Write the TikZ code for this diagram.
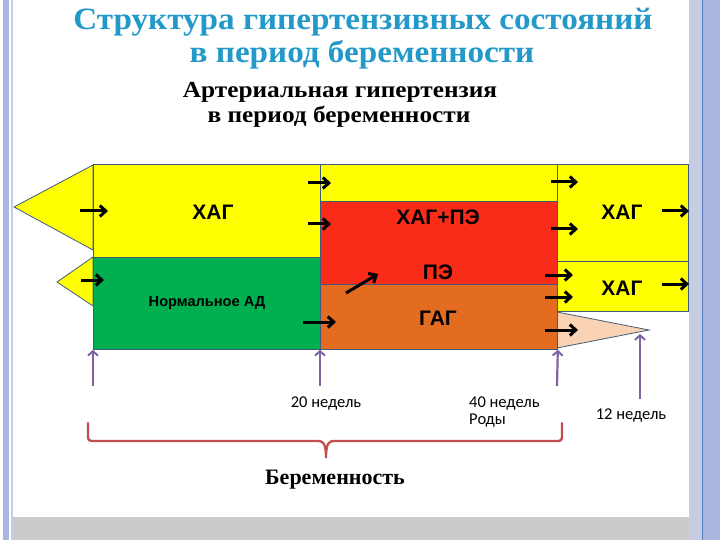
\documentclass[tikz,border=0pt]{standalone}
\usepackage{fontspec}
\setmainfont{Liberation Serif}
\newfontfamily\arialf{Liberation Sans}
\newfontfamily\calib{Carlito}
\usetikzlibrary{arrows.meta}
\definecolor{cyel}{HTML}{FFFF00}
\definecolor{cgreen}{HTML}{00B050}
\definecolor{cred}{HTML}{F82C18}
\definecolor{corange}{HTML}{E46C20}
\definecolor{cpeach}{HTML}{FAD3B4}
\definecolor{cedge}{HTML}{3F5A7A}
\definecolor{cpurple}{HTML}{8064A2}
\definecolor{cbrace}{HTML}{C0504D}
\definecolor{ctitle}{HTML}{2399C9}
\definecolor{cbar}{HTML}{AAB6E0}
\definecolor{cbarl}{HTML}{C6CCE2}
\definecolor{cbarline}{HTML}{5A7AC2}
\definecolor{cgray}{HTML}{CBCBCB}
\tikzset{
  box/.style={draw=cedge, line width=0.8pt, inner sep=0pt, anchor=north west},
  tri/.style={draw=cedge, line width=0.8pt},
  blk/.style={black, line width=3pt, -{Straight Barb[length=6pt,width=11pt,line width=3pt]}},
  pur/.style={cpurple, line width=2.2pt, -{Straight Barb[length=4.5pt,width=10pt,line width=2pt]}},
  lbl/.style={font=\arialf\bfseries\fontsize{21}{23}\selectfont, inner sep=0pt},
  wk/.style={font=\calib\fontsize{16.5}{19}\selectfont, inner sep=0pt},
}
\begin{document}
\begin{tikzpicture}[x=1pt,y=-1pt]
\useasboundingbox (0,0) rectangle (720,540);
% frame
\fill[white] (0,0) rectangle (720,540);
\fill[cgray] (12,517) rectangle (690,540);
\fill[cbar] (3,0) rectangle (9,540);
\fill[cbarl] (11,0) rectangle (13,540);
\fill[cbarl] (689,0) rectangle (702,540);
\fill[cbar] (702,0) rectangle (720,540);
\draw[cbarline, line width=1pt] (702.5,0) -- (702.5,540);
% titles
\node[font=\bfseries\fontsize{31}{33}\selectfont, text=ctitle, inner sep=0pt, xscale=1.07] (t1) at (363,22) {Структура гипертензивных состояний};
\node[font=\bfseries\fontsize{31}{33}\selectfont, text=ctitle, inner sep=0pt, xscale=1.07] (t2) at (362,55) {в период беременности};
\node[font=\bfseries\fontsize{23}{25}\selectfont, inner sep=0pt, xscale=1.1] (s1) at (340,92) {Артериальная гипертензия};
\node[font=\bfseries\fontsize{23}{25}\selectfont, inner sep=0pt, xscale=1.1] (s2) at (339,117) {в период беременности};
% triangles
\filldraw[tri, fill=cyel] (93,165) -- (14,207) -- (93,250) -- cycle;
\filldraw[tri, fill=cyel] (93,257) -- (57,282) -- (93,306) -- cycle;
\filldraw[tri, fill=cpeach] (557,312) -- (649,330) -- (557,348) -- cycle;
% boxes
\node[box, fill=cyel, minimum width=227pt, minimum height=93pt] (xag1) at (93,164) {};
\node[box, fill=cgreen, minimum width=227pt, minimum height=92pt] (norm) at (93,257) {};
\node[box, fill=cyel, minimum width=237pt, minimum height=37pt] (ymid) at (320,164) {};
\node[box, fill=cred, minimum width=237pt, minimum height=83pt] (pe) at (320,201) {};
\node[box, fill=corange, minimum width=237pt, minimum height=65pt] (gag) at (320,284) {};
\node[box, fill=cyel, minimum width=131pt, minimum height=97pt] (xag2) at (557,164) {};
\node[box, fill=cyel, minimum width=131pt, minimum height=50pt] (xag3) at (557,261) {};
% labels
\node[lbl] (l1) at (213,212) {ХАГ};
\node[lbl] (l2) at (438,217) {ХАГ+ПЭ};
\node[lbl] (l3) at (438,272) {ПЭ};
\node[lbl] (l4) at (438,318) {ГАГ};
\node[lbl] (l5) at (622,212) {ХАГ};
\node[lbl] (l6) at (622,288) {ХАГ};
\node[font=\arialf\bfseries\fontsize{14.6}{16}\selectfont, inner sep=0pt] (l7) at (207,303) {Нормальное АД};
% black arrows
\foreach \a/\b/\y in {80/108/211, 81/104/280, 308/331/183, 308/331/224, 303/336/322, 551/578/182, 551/578/229, 545/573/275, 545/573/297, 545/578/330, 662/689/211, 662/689/284}
  \draw[blk] (\a,\y) -- (\b,\y);
\draw[blk] (346,293) -- (378,274);
% purple arrows
\coordinate (p1) at (93,386);
\coordinate (p2) at (320,386);
\coordinate (p3) at (557,386);
\coordinate (p4) at (640,399);
\draw[pur] (p1) -- (norm.south west);
\draw[pur] (p2) -- (gag.south west);
\draw[pur] (p3) -- (gag.south east);
\draw[pur] (p4) -- (640,334);
% week labels
\node[wk] (w20) at (326,403) {20 недель};
\node[wk, anchor=west] (w40) at (469,403) {40 недель};
\node[wk, anchor=west] (rod) at (469,421) {Роды};
\node[wk] (w12) at (631,415) {12 недель};
% brace
\draw[cbrace, line width=2.3pt, line cap=round]
  (88,423) -- (88,436) .. controls (88,440) and (89,441) .. (93,441) -- (318,441)
  .. controls (323,441) and (326,443) .. (326,458)
  .. controls (326,443) and (329,441) .. (334,441) -- (557,441)
  .. controls (561,441) and (562,440) .. (562,436) -- (562,423);
\node[font=\bfseries\fontsize{22}{24}\selectfont, inner sep=0pt] (ber) at (335,480) {Беременность};
\end{tikzpicture}
\end{document}
